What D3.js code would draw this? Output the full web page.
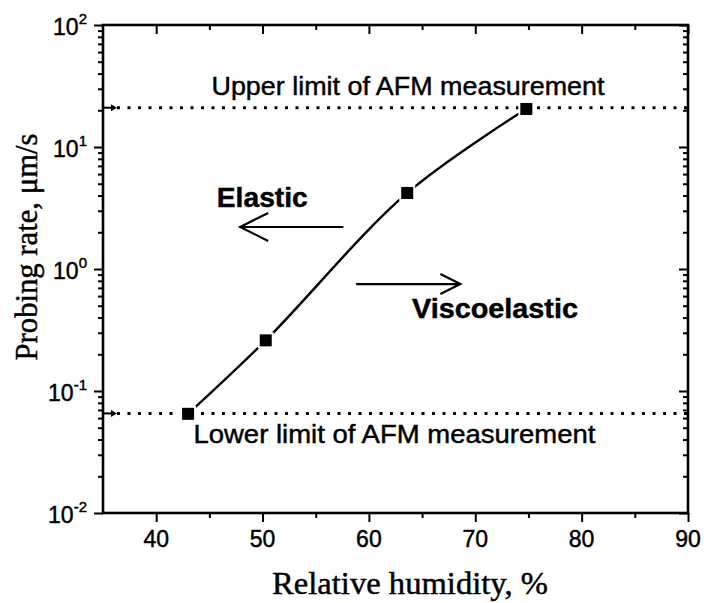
<!DOCTYPE html>
<html>
<head>
<meta charset="utf-8">
<script src="https://cdn.jsdelivr.net/npm/d3@7"></script>
<style>
  body { margin: 0; background: #fff; }
  text { fill: #000; stroke: #000; stroke-width: 0.45px; }
  .sans { font-family: "Liberation Sans", Arial, sans-serif; }
  .serif { font-family: "Liberation Serif", "Times New Roman", serif; }
</style>
</head>
<body>
<svg width="720" height="603"></svg>
<script>
// data
var humidity = [43, 50.3, 63.6, 74.8];       // relative humidity, %
var rate = [0.065, 0.26, 4.2, 20.5];          // probing rate, um/s
var limitValues = [21, 0.0655];               // upper / lower AFM limit
var limitLabels = ["Upper limit of AFM measurement", "Lower limit of AFM measurement"];
var xTicks = [40, 50, 60, 70, 80, 90];
var xMinorTicks = [45, 55, 65, 75, 85];
var yExponents = [-2, -1, 0, 1, 2];

var svg = d3.select("svg");
// plot box (note: "top" is reserved on window, so use plot* names)
var plotL = 103, plotR = 688, plotT = 25, plotB = 513;

var x = d3.scaleLinear().domain([35, 90]).range([plotL, plotR]);
var y = d3.scaleLog().domain([0.01, 100]).range([plotB, plotT]);

var yMajor = yExponents.map(function(e) { return Math.pow(10, e); });
var yMinor = [];
yExponents.slice(0, -1).forEach(function(e) {
  for (var k = 2; k < 10; k++) yMinor.push(k * Math.pow(10, e));
});

// axes: bottom/left ticks out, top/right mirrored ticks in
function styleAxis(g) {
  g.select(".domain").remove();
  g.selectAll("line").attr("stroke", "#000").attr("stroke-width", 2);
  g.selectAll("text").remove();
}
svg.append("g").attr("transform", "translate(0," + plotB + ")")
  .call(d3.axisBottom(x).tickValues(xTicks).tickSize(9)).call(styleAxis);
svg.append("g").attr("transform", "translate(0," + plotB + ")")
  .call(d3.axisBottom(x).tickValues(xMinorTicks).tickSize(5)).call(styleAxis);
svg.append("g").attr("transform", "translate(0," + plotT + ")")
  .call(d3.axisBottom(x).tickValues(xTicks).tickSize(9)).call(styleAxis);
svg.append("g").attr("transform", "translate(0," + plotT + ")")
  .call(d3.axisBottom(x).tickValues(xMinorTicks).tickSize(5)).call(styleAxis);

svg.append("g").attr("transform", "translate(" + plotL + ",0)")
  .call(d3.axisLeft(y).tickValues(yMajor).tickSize(9)).call(styleAxis);
svg.append("g").attr("transform", "translate(" + plotL + ",0)")
  .call(d3.axisLeft(y).tickValues(yMinor).tickSize(5)).call(styleAxis);
svg.append("g").attr("transform", "translate(" + plotR + ",0)")
  .call(d3.axisLeft(y).tickValues(yMajor).tickSize(9)).call(styleAxis);
svg.append("g").attr("transform", "translate(" + plotR + ",0)")
  .call(d3.axisLeft(y).tickValues(yMinor).tickSize(5)).call(styleAxis);

// frame
svg.append("rect")
  .attr("x", plotL).attr("y", plotT)
  .attr("width", plotR - plotL).attr("height", plotB - plotT)
  .attr("fill", "none").attr("stroke", "#000").attr("stroke-width", 2.6);

// tick labels
svg.append("g").selectAll("text")
  .data(xTicks)
  .enter().append("text")
  .attr("class", "sans")
  .attr("x", function(d) { return x(d); })
  .attr("y", plotB + 34)
  .attr("text-anchor", "middle")
  .attr("font-size", 23)
  .text(function(d) { return d; });

var yl = svg.append("g").selectAll("text")
  .data(yExponents)
  .enter().append("text")
  .attr("class", "sans")
  .attr("x", 87)
  .attr("y", function(d) { return y(Math.pow(10, d)) + 10; })
  .attr("text-anchor", "end")
  .attr("font-size", 23);
yl.append("tspan").text("10");
yl.append("tspan")
  .attr("font-size", 15)
  .attr("dy", -11)
  .text(function(d) { return d < 0 ? "-" + (-d) : d; });

// axis titles
svg.append("text")
  .attr("class", "serif")
  .attr("x", 410).attr("y", 594)
  .attr("text-anchor", "middle")
  .attr("font-size", 31)
  .attr("textLength", 276).attr("lengthAdjust", "spacingAndGlyphs")
  .text("Relative humidity, %");

svg.append("text")
  .attr("class", "serif")
  .attr("transform", "translate(37,247) rotate(-90)")
  .attr("text-anchor", "middle")
  .attr("font-size", 31)
  .attr("textLength", 227).attr("lengthAdjust", "spacingAndGlyphs")
  .text("Probing rate, \u03bcm/s");

// limit lines
limitValues.forEach(function(v) {
  svg.append("line")
    .attr("x1", plotL + 14).attr("x2", plotR)
    .attr("y1", y(v)).attr("y2", y(v))
    .attr("stroke", "#000").attr("stroke-width", 3)
    .attr("stroke-dasharray", "3,7.5");
  svg.append("line")
    .attr("x1", plotL).attr("x2", plotL + 10)
    .attr("y1", y(v)).attr("y2", y(v))
    .attr("stroke", "#000").attr("stroke-width", 2);
  svg.append("path")
    .attr("d", "M" + (plotL + 14) + "," + y(v) + "l-6,-3.5l0,7z")
    .attr("fill", "#000");
});

// label positions in data units
var limitLabelPos = [[45.2, 26.7], [43.5, 0.0375]];
var limitLabelWidth = [393, 402];
limitLabels.forEach(function(t, i) {
  svg.append("text")
    .attr("class", "sans")
    .attr("x", x(limitLabelPos[i][0]))
    .attr("y", y(limitLabelPos[i][1]))
    .attr("font-size", 26)
    .attr("textLength", limitLabelWidth[i]).attr("lengthAdjust", "spacingAndGlyphs")
    .text(t);
});

// curve through the points
var pts = humidity.map(function(h, i) { return [x(h), y(rate[i])]; });
svg.append("path")
  .attr("d", d3.line().curve(d3.curveCatmullRom.alpha(0.5))(pts))
  .attr("fill", "none")
  .attr("stroke", "#000")
  .attr("stroke-width", 2.4);

// markers with a white halo so the line stops short of them
svg.append("g").selectAll("rect")
  .data(pts)
  .enter().append("rect")
  .attr("x", function(d) { return d[0] - 6; })
  .attr("y", function(d) { return d[1] - 6; })
  .attr("width", 12).attr("height", 12)
  .attr("fill", "#000")
  .attr("stroke", "#fff").attr("stroke-width", 4)
  .attr("paint-order", "stroke");

// Elastic / Viscoelastic arrows
function arrow(x1, x2, yv, head) {
  var yy = y(yv), dir = x2 > x1 ? -1 : 1;
  svg.append("path")
    .attr("d", "M" + x(x1) + "," + yy + "H" + x(x2) +
      "M" + (x(x2) + dir * head[0]) + "," + (yy - head[1]) +
      "L" + x(x2) + "," + yy +
      "L" + (x(x2) + dir * head[0]) + "," + (yy + head[1]))
    .attr("fill", "none")
    .attr("stroke", "#000")
    .attr("stroke-width", 2.2);
}
arrow(57.6, 47.9, 2.21, [28, 14]);
arrow(58.8, 68.6, 0.753, [20, 10]);

svg.append("text")
  .attr("class", "sans")
  .attr("x", x(45.7)).attr("y", y(3.22))
  .attr("font-size", 27).attr("font-weight", "bold")
  .attr("textLength", 91).attr("lengthAdjust", "spacingAndGlyphs")
  .text("Elastic");

svg.append("text")
  .attr("class", "sans")
  .attr("x", x(64.05)).attr("y", y(0.396))
  .attr("font-size", 27).attr("font-weight", "bold")
  .attr("textLength", 166).attr("lengthAdjust", "spacingAndGlyphs")
  .text("Viscoelastic");
</script>
</body>
</html>
